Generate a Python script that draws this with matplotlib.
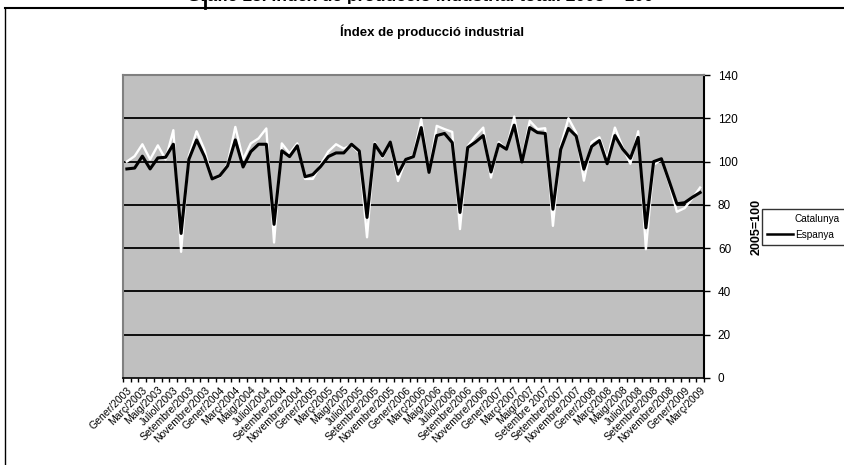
import matplotlib
matplotlib.use('Agg')
import matplotlib.pyplot as plt
from matplotlib.lines import Line2D

plt.rcParams['font.family'] = ['Liberation Sans', 'DejaVu Sans']

######################################################################
# data, monthly Gener/2003 - Març/2009

mesos = ['Gener', 'Febrer', 'Març', 'Abril', 'Maig', 'Juny', 'Juliol',
         'Agost', 'Setembre', 'Octubre', 'Novembre', 'Desembre']
categories = []
for any_ in range(2003, 2010):
    for m in mesos:
        categories.append(m + '/' + str(any_))
categories = categories[:75]

catalunya = [100, 102.5, 108, 101, 107.5, 101, 114.5, 58.3, 102.5, 114,
             105.6, 92, 93, 99, 116, 101, 108.4, 110.7, 115.3, 62.6,
             108.4, 103.8, 108.4, 92, 92, 98.5, 104.6, 108, 106, 107.6,
             104, 65, 108.8, 101.8, 109, 91, 101, 103, 119.5, 95,
             116.5, 115, 113.7, 68.8, 107, 111.8, 115.7, 92.6, 109, 105.7,
             120.8, 100.3, 118.8, 115, 115.4, 70.3, 107.2, 120, 113.4, 91.2,
             109, 111.2, 101, 115.7, 106.6, 99, 114, 59.5, 98.5, 101,
             90, 76.8, 78.5, 83, 88]

espanya = [96.6, 97, 102.5, 96.6, 101.7, 102, 108, 66.8, 101, 110,
           102.5, 92, 93.5, 98, 110, 97.5, 104.6, 108, 108, 71,
           105, 102.3, 107.3, 93, 94, 97.7, 102.3, 104, 104, 108,
           104.9, 74.2, 108, 102.6, 109, 94.2, 101, 102.3, 115.7, 95,
           112, 113, 108.8, 76.5, 106.5, 109, 112, 95.2, 108, 105.7,
           116.8, 99.8, 115.7, 113.4, 113, 78, 105.6, 115.3, 111.8, 96.5,
           107, 109.7, 99, 112, 105.8, 101.5, 111.2, 69.4, 100, 101.3,
           91, 80.5, 81, 83.5, 85.7]

# labels every two months, as in the original (one without slash)
tick_labels = categories[::2]
tick_labels[27] = 'Setembre 2007'

y_ticks = [0, 20, 40, 60, 80, 100, 120, 140]

######################################################################
# figure

W, H = 845, 465
fig = plt.figure(figsize=(W / 100, H / 100), dpi=100)

# outer frame of the chart object (left + top edges visible)
fig.add_artist(Line2D([5 / W, 5 / W], [0, 1 - 8 / H], color='black', lw=1.0))
fig.add_artist(Line2D([5 / W, 1], [1 - 8 / H, 1 - 8 / H], color='black', lw=1.5))
fig.add_artist(Line2D([205 / W, 205 / W], [1 - 8 / H, 1], color='black', lw=2.0))

# heading of the document, cut by the top of the picture
fig.text(420 / W, 1 + 5 / H, 'Gràfic 15. Índex de producció industrial total. 2005 = 100',
         ha='center', va='center', fontsize=12.5, fontweight='bold')

fig.text(432 / W, 1 - 32 / H, 'Índex de producció industrial',
         ha='center', va='center', fontsize=9.5, fontweight='bold')

x0, x1, y0, y1 = 123, 704, 75, 378
ax = fig.add_axes([x0 / W, 1 - y1 / H, (x1 - x0) / W, (y1 - y0) / H])
ax.set_facecolor('#C0C0C0')

x = list(range(len(categories)))
ax.plot(x, catalunya, color='white', lw=1.7, label='Catalunya', zorder=3)
ax.plot(x, espanya, color='black', lw=2.2, label='Espanya', zorder=4)

ax.set_xlim(-0.5, len(categories) - 0.5)
ax.set_ylim(0, 140)

for v in y_ticks[1:-1]:
    ax.axhline(v, color='black', lw=1.3, zorder=1)

ax.yaxis.tick_right()
ax.yaxis.set_label_position('right')
ax.set_yticks(y_ticks)
ax.tick_params(axis='y', direction='out', length=4, width=1, labelsize=8.5, pad=6)
ax.set_ylabel('2005=100', fontsize=9, fontweight='bold', labelpad=9)

# tick marks between categories, labels on category centres
ax.set_xticks([i - 0.5 for i in range(len(categories) + 1)])
ax.set_xticklabels([])
ax.tick_params(axis='x', which='major', direction='out', length=3, width=1)
ax.set_xticks(x[::2], minor=True)
ax.set_xticklabels(tick_labels, minor=True, rotation=45, ha='right', va='top',
                   rotation_mode='anchor', fontsize=7.5)
ax.tick_params(axis='x', which='minor', length=0, pad=5)

for s in ['left', 'top']:
    ax.spines[s].set_color('#808080')
    ax.spines[s].set_linewidth(1.5)
ax.spines['right'].set_color('black')
ax.spines['right'].set_linewidth(1.5)
ax.spines['bottom'].set_color('black')
ax.spines['bottom'].set_linewidth(1.2)

leg = ax.legend(loc='center left', bbox_to_anchor=(762 / W, 1 - 227 / H),
                bbox_transform=fig.transFigure, fontsize=7.2, frameon=True,
                fancybox=False, edgecolor='black', facecolor='white',
                handlelength=2.6, handletextpad=0.2, borderpad=0.5,
                borderaxespad=0, labelspacing=0.6)
leg.get_frame().set_linewidth(1.0)
for h in leg.get_lines():
    h.set_linewidth(1.8)

fig.savefig('out.png', dpi=100)
